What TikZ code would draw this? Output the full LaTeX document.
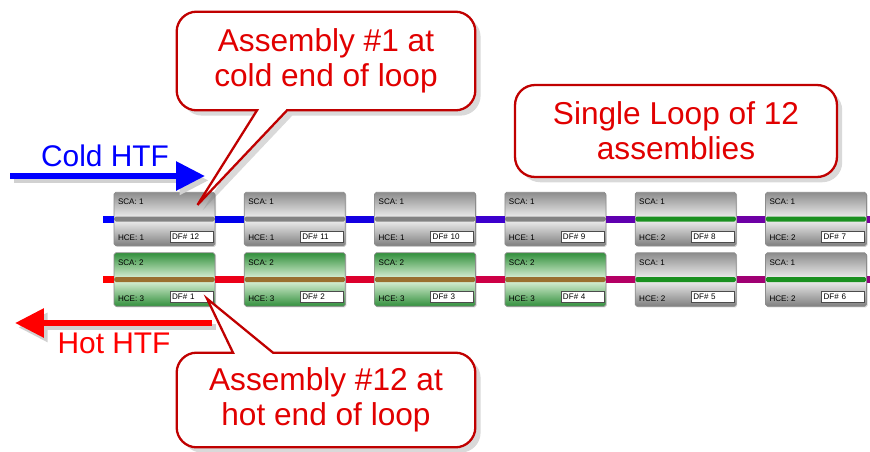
\documentclass[tikz,border=0pt]{standalone}
\usepackage{fontspec}
\setmainfont{Liberation Sans}
\usetikzlibrary{arrows.meta, positioning, calc, shadows}

\definecolor{callred}{RGB}{192,0,0}
\definecolor{textred}{RGB}{225,0,0}
\definecolor{coldblue}{RGB}{0,0,255}
\definecolor{hotred}{RGB}{255,0,0}
\definecolor{stripegray}{RGB}{130,130,130}
\definecolor{stripebrown}{RGB}{154,112,48}
\definecolor{stripegreen}{RGB}{26,144,32}
\definecolor{asmgreen}{RGB}{50,144,60}
\definecolor{asmpale}{RGB}{226,245,222}
% pipe colours, cold row then hot row
\definecolor{tp0}{RGB}{0,0,255}
\definecolor{tp1}{RGB}{0,0,235}
\definecolor{tp2}{RGB}{20,0,225}
\definecolor{tp3}{RGB}{60,0,205}
\definecolor{tp4}{RGB}{95,0,175}
\definecolor{tp5}{RGB}{110,0,165}
\definecolor{tp6}{RGB}{120,0,155}
\definecolor{bp0}{RGB}{255,0,0}
\definecolor{bp1}{RGB}{235,0,25}
\definecolor{bp2}{RGB}{220,0,45}
\definecolor{bp3}{RGB}{205,0,70}
\definecolor{bp4}{RGB}{180,0,100}
\definecolor{bp5}{RGB}{160,0,115}
\definecolor{bp6}{RGB}{145,0,125}

\begin{document}
\begin{tikzpicture}[
        x=0.02cm, y=-0.02cm,
        asm/.style={rectangle, draw=black!45, rounded corners=1pt, minimum width=2.02cm, minimum height=1.07cm, inner sep=0pt,
            drop shadow={shadow xshift=0.6pt, shadow yshift=-0.6pt, opacity=0.35},
            path picture={\fill[#1] ([yshift=-0.05cm]path picture bounding box.west) rectangle ([yshift=0.05cm]path picture bounding box.east);}},
        graybody/.style={top color=black!45, bottom color=black!50, middle color=black!5},
        greenbody/.style={top color=asmgreen, bottom color=asmgreen, middle color=asmpale},
        tag/.style={font=\fontsize{4.6}{5}\selectfont, inner sep=0pt, anchor=west},
        dfbox/.style={rectangle, draw=black!70, fill=white, line width=0.3pt, minimum width=0.86cm, minimum height=0.22cm, inner xsep=0.04cm, inner ysep=0pt, text width=0.78cm, align=left, font=\fontsize{4.6}{5}\selectfont},
        pipe/.style={line width=0.14cm},
        flow/.style={line width=0.12cm, -{Triangle[length=0.58cm, width=0.56cm]}},
        flowshadow/.style={flow, black!18, transform canvas={shift={(2pt,-2.5pt)}}},
        htf/.style={font=\fontsize{17}{20}\selectfont},
        calltext/.style={font=\fontsize{18}{20}\selectfont, text=textred, align=center},
        callout/.style={draw=callred, line width=1.3pt, fill=white, drop shadow={shadow xshift=3pt, shadow yshift=-3pt, opacity=0.3}},
        callsize/.style={rectangle, inner sep=0pt}
    ]
        \useasboundingbox (0,0) rectangle (870,451);
        % cold row (top) and hot row (bottom)
        \foreach \col/\n/\sca/\hce/\body/\stripe in {0/12/1/1/graybody/stripegray, 1/11/1/1/graybody/stripegray, 2/10/1/1/graybody/stripegray, 3/9/1/1/graybody/stripegray, 4/8/1/2/graybody/stripegreen, 5/7/1/2/graybody/stripegreen}{
            \node[asm=\stripe, \body] (asm\n) at ({164.5+130.3*\col}, 219) {};
            \node[tag] (sca\n) at ($(asm\n.north west)+(4,10)$) {SCA: \sca};
            \node[tag] (hce\n) at ($(asm\n.south west)+(4,-8)$) {HCE: \hce};
            \node[dfbox, anchor=south east] (df\n) at ($(asm\n.south east)+(-2,-4)$) {DF\# \n};
        }
        \foreach \col/\n/\sca/\hce/\body/\stripe in {0/1/2/3/greenbody/stripebrown, 1/2/2/3/greenbody/stripebrown, 2/3/2/3/greenbody/stripebrown, 3/4/2/3/greenbody/stripebrown, 4/5/1/2/graybody/stripegreen, 5/6/1/2/graybody/stripegreen}{
            \node[asm=\stripe, \body] (asm\n) at ({164.5+130.3*\col}, 279.5) {};
            \node[tag] (sca\n) at ($(asm\n.north west)+(4,10)$) {SCA: \sca};
            \node[tag] (hce\n) at ($(asm\n.south west)+(4,-8)$) {HCE: \hce};
            \node[dfbox, anchor=south east] (df\n) at ($(asm\n.south east)+(-2,-4)$) {DF\# \n};
        }
        % piping
        \coordinate (coldin) at (103,219);
        \coordinate (coldout) at (870,219);
        \coordinate (hotin) at (870,279.5);
        \coordinate (hotout) at (103,279.5);
        \draw[pipe, tp0] (coldin) -- (asm12);
        \foreach \a/\b/\c in {12/11/tp1, 11/10/tp2, 10/9/tp3, 9/8/tp4, 8/7/tp5}
            \draw[pipe, \c] (asm\a) -- (asm\b);
        \draw[pipe, tp6] (asm7) -- (coldout);
        \draw[pipe, bp6] (hotin) -- (asm6);
        \foreach \a/\b/\c in {6/5/bp5, 5/4/bp4, 4/3/bp3, 3/2/bp2, 2/1/bp1}
            \draw[pipe, \c] (asm\a) -- (asm\b);
        \draw[pipe, bp0] (asm1) -- (hotout);
        % flow arrows
        \coordinate (coldtail) at (10,176);
        \coordinate (coldhead) at (205,176);
        \draw[flowshadow] (coldtail) -- (coldhead);
        \draw[flow, coldblue] (coldtail) -- (coldhead);
        \node[htf, text=coldblue] (coldlbl) at (105,156) {Cold HTF};
        \coordinate (hottail) at (212,323);
        \coordinate (hothead) at (15,323);
        \draw[flowshadow] (hottail) -- (hothead);
        \draw[flow, hotred] (hottail) -- (hothead);
        \node[htf, text=hotred] (hotlbl) at (114,343) {Hot HTF};
        % callouts
        \node[callsize, minimum width=5.96cm, minimum height=1.96cm] (firstframe) at (326,61) {};
        \coordinate (firsttip) at ($(asm12.north)+(33,13)$);
        \draw[callout] ($(firstframe.south)+(-69,0)$) [rounded corners=0.4cm] -- (firstframe.south west) -- (firstframe.north west) -- (firstframe.north east) -- (firstframe.south east) [sharp corners] -- ($(firstframe.south)+(-39,0)$) -- (firsttip) -- cycle;
        \node[calltext] (firstlbl) at (firstframe) {Assembly \#1 at\\cold end of loop};
        \node[callsize, minimum width=5.96cm, minimum height=1.88cm] (lastframe) at (326,400) {};
        \coordinate (lasttip) at ($(asm1.south)+(42.5,-8)$);
        \draw[callout] ($(lastframe.north)+(-53,0)$) [rounded corners=0.4cm] -- (lastframe.north east) -- (lastframe.south east) -- (lastframe.south west) -- (lastframe.north west) [sharp corners] -- ($(lastframe.north)+(-93,0)$) -- (lasttip) -- cycle;
        \node[calltext] (lastlbl) at (lastframe) {Assembly \#12 at\\hot end of loop};
        \node[callout, calltext, rectangle, rounded corners=0.4cm, minimum width=6.44cm, minimum height=1.84cm] (looplbl) at (676,131) {Single Loop of 12\\assemblies};
    \end{tikzpicture}
\end{document}
